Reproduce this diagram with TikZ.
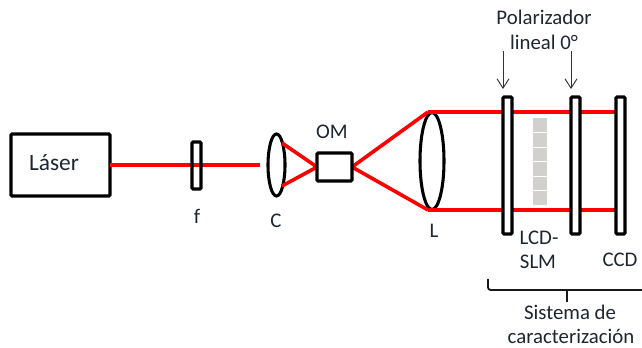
\documentclass[tikz,border=0pt]{standalone}
\usepackage{fontspec}
\setmainfont{Carlito}
\usetikzlibrary{arrows.meta,calc,shapes.geometric}
\definecolor{txt}{HTML}{1E2630}
\definecolor{beamred}{HTML}{FF0000}
\definecolor{slm}{HTML}{D1D0CC}
\tikzset{
  x=0.75pt,y=-0.75pt,
  box/.style={draw=black,line width=2.3pt,rectangle,rounded corners=0.8pt,inner sep=0pt,outer sep=0pt,minimum width=#1},
  plate/.style={box=6.75pt,fill=white,minimum height=102.75pt},
  lens/.style={draw=black,line width=2.3pt,ellipse,inner sep=0pt,outer sep=0pt},
  beam/.style={draw=beamred,line width=2.7pt},
  label/.style={text=txt,font=\fontsize{15.6pt}{18pt}\selectfont,inner sep=0pt,anchor=center},
  pointer/.style={draw=black!80,line width=0.7pt,-{Straight Barb[length=7pt,width=9pt,line width=0.7pt]}},
  bracket/.style={draw=black!90,line width=1.4pt,rounded corners=2pt},
  cell/.style={fill=slm,draw=none,rectangle,inner sep=0pt,outer sep=0pt,minimum width=10.5pt,minimum height=10.1pt},
}
\begin{document}
\begin{tikzpicture}
\useasboundingbox[fill=white] (0,0) rectangle (642,348);
% coordinates of the beam
\coordinate (beamA) at (260,165);
\coordinate (cTop) at (282,143);
\coordinate (cBot) at (282,186);
\coordinate (focusIn) at (317,167);
\coordinate (focusOut) at (352,167);
\coordinate (lTop) at (428,112);
\coordinate (lBot) at (428,210);
\coordinate (ccdTop) at (616,112);
\coordinate (ccdBot) at (616,210);
% laser
\node[box=74.25pt,minimum height=46.5pt] (laser) at (60.5,165) {};
\node[label,font=\fontsize{17.5pt}{20pt}\selectfont] (laserText) at (54,163) {Láser};
% lenses
\node[lens,minimum width=12.75pt,minimum height=46.5pt] (C) at (276.5,165) {};
\node[lens,minimum width=18pt,minimum height=72.75pt] (L) at (432,161) {};
% beams
\draw[beam] (laser.east |- 0,165) -- (beamA);
\draw[beam] (cTop) -- (focusIn) -- (cBot);
\draw[beam] (lTop) -- (focusOut) -- (lBot);
\draw[beam] (lTop) -- (ccdTop);
\draw[beam] (lBot) -- (ccdBot);
% filter, objective
\node[box=6.75pt,minimum height=35.25pt] (f) at (196.5,165.5) {};
\node[box=26.25pt,minimum height=21pt,fill=white] (OM) at (334.5,167) {};
% plates
\node[plate] (P1) at (507.5,165.5) {};
\node[plate] (P2) at (575.5,165.5) {};
\node[plate] (P3) at (620.5,165.5) {};
% SLM cells
\foreach \i in {0,...,5}{
  \node[cell] (cell\i) at (540,{125.2+14.6*\i}) {};
}
% labels
\node[label] (tP) at (544,17) {Polarizador};
\node[label] (tL) at (544,42) {lineal 0°};
\node[label] (tf) at (197,216) {f};
\node[label] (tC) at (276,221) {C};
\node[label] (tOM) at (332,132) {OM};
\node[label] (tLL) at (434,231) {L};
\node[label] (tLCD) at (539,238) {LCD-};
\node[label] (tSLM) at (538,262) {SLM};
\node[label] (tCCD) at (620,260) {CCD};
\node[label] (tS) at (570,312) {Sistema de};
\node[label] (tCar) at (571,336.5) {caracterización};
% pointers
\coordinate (a1) at (503,51);
\coordinate (a2) at (571,51);
\coordinate (b1) at (503,89);
\coordinate (b2) at (571,89);
\draw[pointer] (a1) -- (b1);
\draw[pointer] (a2) -- (b2);
% bracket
\coordinate (brL) at (488,279);
\coordinate (brC) at (488,290);
\coordinate (brR) at (642,290);
\coordinate (brM) at (567,290);
\coordinate (brT) at (567,302);
\draw[bracket] (brL) -- (brC) -- (brR);
\draw[bracket] (brM) -- (brT);
\end{tikzpicture}
\end{document}
